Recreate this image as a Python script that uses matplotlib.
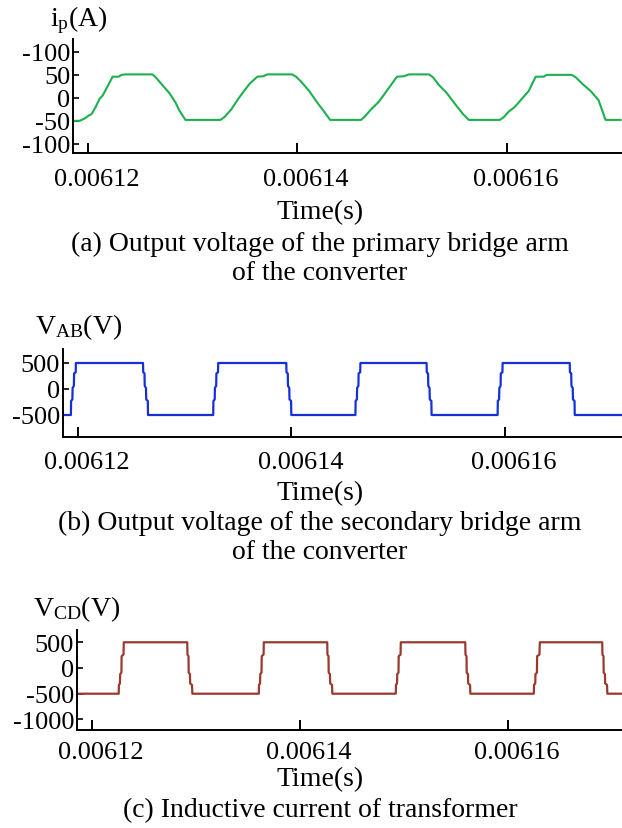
import matplotlib
matplotlib.use("Agg")
import matplotlib.pyplot as plt
import matplotlib.transforms as mtransforms
import numpy as np

plt.rcParams.update({
    "font.family": ["Liberation Serif", "DejaVu Serif"],
    "mathtext.fontset": "custom",
    "mathtext.rm": "Liberation Serif",
    "mathtext.it": "Liberation Serif:italic",
    "axes.unicode_minus": False,
})

# time in microseconds
t_ip = [6118.57, 6119.24, 6119.71, 6120.00, 6120.38, 6120.76, 6121.14, 6121.43, 6121.90,
        6122.38, 6122.95, 6123.24, 6123.62, 6126.19, 6126.48, 6126.86, 6127.24, 6127.81,
        6128.38, 6128.76, 6129.33, 6132.67, 6133.05, 6133.71, 6134.29, 6134.76, 6135.43,
        6136.19, 6136.76, 6137.14, 6139.52, 6139.90, 6140.38, 6141.14, 6141.90, 6142.57,
        6143.14, 6146.10, 6146.48, 6147.05, 6147.81, 6148.38, 6148.95, 6149.52, 6150.19,
        6150.67, 6152.57, 6152.95, 6153.52, 6154.29, 6154.95, 6155.81, 6156.38, 6159.33,
        6159.71, 6160.19, 6160.76, 6161.33, 6162.10, 6162.76, 6163.52, 6163.81, 6166.19,
        6166.57, 6167.24, 6168.00, 6168.76, 6169.43, 6170.86]
i_p = [-50, -50, -45, -40, -35, -20, -2, 5, 25,
       46, 46, 50, 51, 51, 45, 35, 25, 10,
       -10, -28, -48, -48, -42, -25, -5, 10, 30,
       46, 47, 51, 51, 46, 35, 15, -10, -30,
       -48, -48, -40, -25, -8, 10, 28, 46, 47,
       51, 51, 45, 28, 10, -10, -35, -48, -48,
       -42, -30, -20, -5, 15, 46, 46, 50, 50,
       45, 30, 15, -5, -48, -48]

t_ab = [6118.60,
        6119.34, 6119.36, 6119.48, 6119.50, 6119.62, 6119.64, 6119.79, 6119.81,
        6126.10, 6126.12, 6126.24, 6126.26, 6126.38, 6126.40, 6126.55, 6126.57,
        6132.68, 6132.70, 6132.82, 6132.84, 6132.96, 6132.98, 6133.13, 6133.15,
        6139.53, 6139.55, 6139.67, 6139.69, 6139.81, 6139.83, 6139.98, 6140.00,
        6146.01, 6146.03, 6146.15, 6146.17, 6146.29, 6146.31, 6146.46, 6146.48,
        6152.68, 6152.70, 6152.82, 6152.84, 6152.96, 6152.98, 6153.13, 6153.15,
        6159.34, 6159.36, 6159.48, 6159.50, 6159.62, 6159.64, 6159.79, 6159.81,
        6166.10, 6166.12, 6166.24, 6166.26, 6166.38, 6166.40, 6166.55, 6166.57,
        6171.00]
v_ab = [-500,
        -500, -230, -200, 20, 60, 300, 320, 500,
        500, 320, 300, 60, 20, -200, -230, -500,
        -500, -230, -200, 20, 60, 300, 320, 500,
        500, 320, 300, 60, 20, -200, -230, -500,
        -500, -230, -200, 20, 60, 300, 320, 500,
        500, 320, 300, 60, 20, -200, -230, -500,
        -500, -230, -200, 20, 60, 300, 320, 500,
        500, 320, 300, 60, 20, -200, -230, -500,
        -500]

t_cd = [6118.60,
        6122.61, 6122.63, 6122.73, 6122.75, 6122.87, 6122.89, 6123.07, 6123.10,
        6129.20, 6129.22, 6129.32, 6129.34, 6129.46, 6129.48, 6129.66, 6129.69,
        6136.08, 6136.10, 6136.20, 6136.22, 6136.34, 6136.36, 6136.54, 6136.56,
        6142.66, 6142.68, 6142.78, 6142.80, 6142.92, 6142.94, 6143.12, 6143.15,
        6149.25, 6149.27, 6149.37, 6149.39, 6149.51, 6149.53, 6149.71, 6149.73,
        6155.93, 6155.95, 6156.05, 6156.07, 6156.19, 6156.21, 6156.39, 6156.42,
        6162.52, 6162.54, 6162.66, 6162.68, 6162.82, 6162.84, 6163.06, 6163.10,
        6169.10, 6169.12, 6169.22, 6169.24, 6169.36, 6169.38, 6169.56, 6169.59,
        6170.94]
v_cd = [-500,
        -500, -330, -300, -120, -90, 230, 260, 500,
        500, 260, 230, -90, -120, -300, -330, -500,
        -500, -330, -300, -120, -90, 230, 260, 500,
        500, 260, 230, -90, -120, -300, -330, -500,
        -500, -330, -300, -120, -90, 230, 260, 500,
        500, 260, 230, -90, -120, -300, -330, -500,
        -500, -330, -300, -120, -90, 230, 260, 500,
        500, 260, 230, -90, -120, -300, -330, -500,
        -500]

x_ticks = [0.00612, 0.00614, 0.00616]
x_ticklabels = ["0.00612", "0.00614", "0.00616"]

ip_ticks = [100, 50, 0, -50, -100]
ip_ticklabels = ["-100", "50", "0", "-50", "-100"]
ab_ticks = [500, 0, -500]
ab_ticklabels = ["500", "0", "-500"]
cd_ticks = [500, 0, -500, -1000]
cd_ticklabels = ["500", "0", "-500", "-1000"]

captions = ["(a) Output voltage of the primary bridge arm\nof the converter",
            "(b) Output voltage of the secondary bridge arm\nof the converter",
            "(c) Inductive current of transformer"]

W, H = 622, 829
fig = plt.figure(figsize=(W / 100, H / 100), dpi=100)


def px_axes(left, top, bottom, right=622):
    return fig.add_axes([left / W, 1 - bottom / H, (right - left) / W, (bottom - top) / H])


def style(ax, yticks, ylabels, ylim, xpad):
    ax.set_xlim(0.0061186, 0.006171)
    ax.set_ylim(*ylim)
    for s in ("top", "right"):
        ax.spines[s].set_visible(False)
    for s in ("left", "bottom"):
        ax.spines[s].set_linewidth(1.4)
    ax.set_xticks(x_ticks)
    ax.set_xticklabels(x_ticklabels, fontsize=19)
    ax.set_yticks(yticks)
    ax.set_yticklabels(ylabels, fontsize=19)
    ax.tick_params(axis="x", direction="in", length=7, width=1.4, pad=xpad)
    ax.tick_params(axis="y", direction="in", length=4, width=1.2, pad=2)
    shift = mtransforms.ScaledTranslation(9 / 100, 0, fig.dpi_scale_trans)
    for lab in ax.get_xticklabels():
        lab.set_transform(lab.get_transform() + shift)


us = 1e-6

ax1 = px_axes(73, 40, 154)
ax1.plot(np.array(t_ip) * us, i_p, color="#1cb04e", lw=1.5)
style(ax1, ip_ticks, ip_ticklabels, (-120, 128), 11)

ax2 = px_axes(63, 350, 438)
ax2.plot(np.array(t_ab) * us, v_ab, color="#1630d8", lw=1.6)
style(ax2, ab_ticks, ab_ticklabels, (-923, 769), 10)

ax3 = px_axes(77, 631, 731)
ax3.plot(np.array(t_cd) * us, v_cd, color="#9a3a2e", lw=1.6)
style(ax3, cd_ticks, cd_ticklabels, (-1206, 739), 8)

# axis titles
fig.text(50 / W, 1 - 20 / H, r"$\mathrm{i_p}$(A)", fontsize=20, ha="left", va="center")
fig.text(35 / W, 1 - 327 / H, r"V$_{\mathrm{AB}}$(V)", fontsize=20, ha="left", va="center")
fig.text(33 / W, 1 - 609 / H, r"V$_{\mathrm{CD}}$(V)", fontsize=20, ha="left", va="center")

for y in (213, 494, 780):
    fig.text(320 / W, 1 - y / H, "Time(s)", fontsize=20, ha="center", va="center")

for y, cap in zip((259, 538, 811), captions):
    fig.text(320 / W, 1 - y / H, cap, fontsize=20, ha="center", va="center",
             linespacing=1.25)

fig.savefig("out.png", dpi=100)
